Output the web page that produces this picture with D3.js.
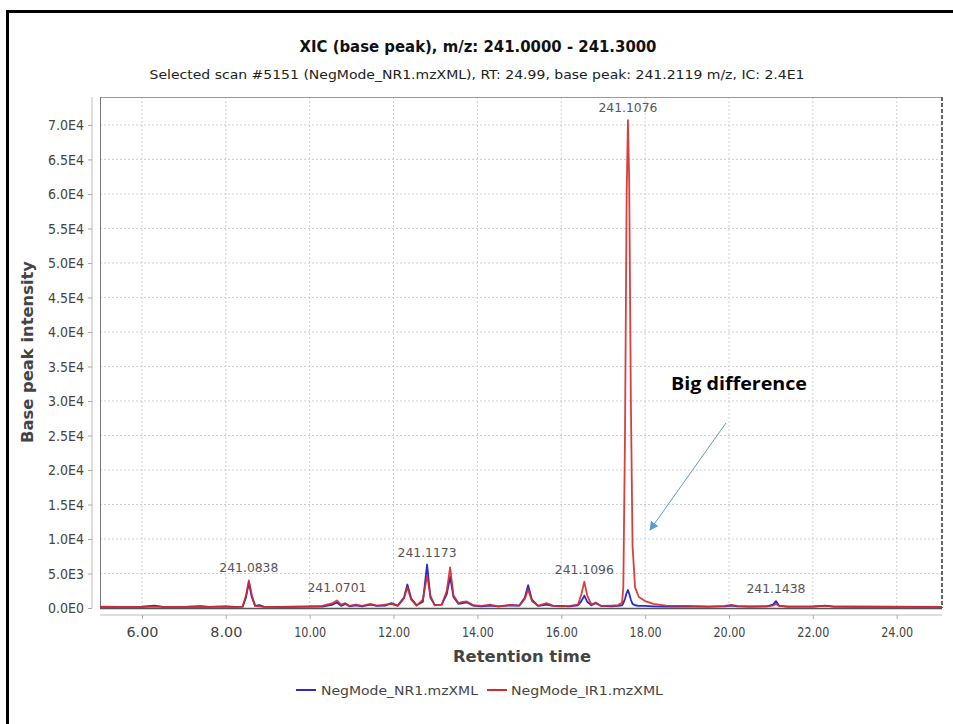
<!DOCTYPE html>
<html>
<head>
<meta charset="utf-8">
<script src="https://cdn.jsdelivr.net/npm/d3@7"></script>
<style>
  html, body { margin: 0; padding: 0; background: #fff; }
  svg { display: block; }
</style>
</head>
<body>
<svg id="chart" width="953" height="724"></svg>
<script>
// Retention time (min), shared by both traces
const retentionTime = [
  5.00, 5.50, 6.00, 6.30, 6.50, 7.00, 7.40, 7.60, 8.00, 8.20, 8.40, 8.48, 8.55, 8.62, 8.70, 8.80, 8.90,
  9.20, 9.60, 10.00, 10.30, 10.55, 10.65, 10.75, 10.85, 10.95, 11.10, 11.25, 11.45, 11.60, 11.80, 11.95,
  12.10, 12.25, 12.33, 12.42, 12.55, 12.70, 12.80, 12.88, 12.98, 13.15, 13.27, 13.35, 13.43, 13.55, 13.65,
  13.75, 13.90, 14.10, 14.30, 14.50, 14.80, 15.00, 15.13, 15.21, 15.30, 15.45, 15.65, 15.80, 16.00, 16.20,
  16.40, 16.48, 16.55, 16.62, 16.72, 16.82, 16.95, 17.20, 17.35, 17.45, 17.48, 17.52, 17.56, 17.59, 17.62,
  17.66, 17.70, 17.76, 17.85, 18.00, 18.20, 18.50, 19.00, 19.50, 19.90, 20.05, 20.20, 20.50, 20.90, 21.05,
  21.12, 21.20, 21.40, 22.00, 22.30, 22.50, 23.00, 24.00, 25.08
];

// Base peak intensity, NegMode_NR1.mzXML
const intensityNR1 = [
  150, 160, 180, 350, 170, 150, 200, 160, 250, 170, 200, 1500, 3700, 1600, 300, 420, 200,
  160, 180, 250, 200, 500, 800, 300, 600, 250, 400, 250, 500, 300, 350, 700,
  350, 1500, 3400, 1400, 400, 900, 6300, 1500, 450, 500, 2000, 4500, 1600, 600, 700,
  800, 350, 250, 350, 250, 400, 350, 1500, 3300, 1200, 300, 500, 300, 300, 250,
  400, 1000, 1800, 900, 400, 700, 300, 250, 300, 400, 700, 1300, 2200, 2600, 2100,
  1200, 600, 400, 300, 300, 250, 200, 250, 200, 250, 350, 250, 200, 250, 500,
  1000, 300, 200, 200, 350, 200, 180, 160, 150
];

// Base peak intensity, NegMode_IR1.mzXML
const intensityIR1 = [
  180, 170, 150, 200, 160, 170, 320, 170, 200, 160, 200, 1800, 4000, 1900, 300, 250, 180,
  160, 170, 200, 300, 700, 1100, 500, 700, 300, 500, 300, 600, 350, 500, 600,
  300, 1400, 3000, 1200, 350, 1200, 4700, 1800, 400, 500, 2500, 5900, 1800, 700, 900,
  950, 400, 300, 500, 250, 450, 350, 1300, 2700, 1000, 300, 700, 350, 250, 300,
  500, 2000, 3800, 1800, 500, 800, 300, 350, 400, 800, 3000, 25000, 60000, 70700, 62000,
  30000, 9000, 3000, 1600, 1000, 600, 350, 300, 200, 300, 450, 300, 220, 250, 350,
  600, 300, 200, 220, 300, 200, 200, 180, 170
];

// Annotated peaks: retention time of the apex and the m/z shown above it
const peakTimes = [8.55, 10.65, 12.80, 16.55, 17.59, 21.12];
const peakLabels = ["241.0838", "241.0701", "241.1173", "241.1096", "241.1076", "241.1438"];

const xTicks = [6, 8, 10, 12, 14, 16, 18, 20, 22, 24];
const yTicks = [0, 5000, 10000, 15000, 20000, 25000, 30000, 35000, 40000, 45000, 50000, 55000, 60000, 65000, 70000];

const seriesNames = ["NegMode_NR1.mzXML", "NegMode_IR1.mzXML"];
const seriesColors = ["#2b2bc8", "#d42a2a"];

const svg = d3.select("#chart");
const font = "'DejaVu Sans', 'Noto Sans', sans-serif";

// outer frame
svg.append("rect")
  .attr("x", 7.5).attr("y", 11.5).attr("width", 1000).attr("height", 1000)
  .attr("fill", "none").attr("stroke", "#000").attr("stroke-width", 3);

const plot = { left: 100, right: 942, top: 97, bottom: 608 };

const x = d3.scaleLinear().domain([5, 25.08]).range([plot.left, plot.right]);
const y = d3.scaleLinear().domain([0, 74050]).range([plot.bottom, plot.top]);

function fitText(sel, width) {
  sel.attr("textLength", width).attr("lengthAdjust", "spacingAndGlyphs");
}

// titles
svg.append("text").attr("x", 478).attr("y", 52).attr("text-anchor", "middle")
  .attr("font-family", font).attr("font-weight", "bold").attr("font-size", 15).attr("fill", "#111")
  .text("XIC (base peak), m/z: 241.0000 - 241.3000").call(fitText, 357);
svg.append("text").attr("x", 477).attr("y", 79).attr("text-anchor", "middle")
  .attr("font-family", font).attr("font-size", 13).attr("fill", "#222")
  .text("Selected scan #5151 (NegMode_NR1.mzXML), RT: 24.99, base peak: 241.2119 m/z, IC: 2.4E1")
  .call(fitText, 655);

// grid
const grid = svg.append("g");
grid.selectAll("line.gx").data(xTicks).join("line")
  .attr("x1", d => x(d)).attr("x2", d => x(d)).attr("y1", plot.top).attr("y2", plot.bottom)
  .attr("stroke", "#cfcfcf").attr("stroke-dasharray", "2,2");
grid.selectAll("line.gy").data(yTicks.slice(1)).join("line")
  .attr("x1", plot.left).attr("x2", plot.right).attr("y1", d => y(d)).attr("y2", d => y(d))
  .attr("stroke", "#cfcfcf").attr("stroke-dasharray", "2,2");

// plot frame
svg.append("line").attr("x1", plot.left).attr("x2", plot.right).attr("y1", plot.top + 0.5).attr("y2", plot.top + 0.5)
  .attr("stroke", "#999");
svg.append("line").attr("x1", plot.left + 0.5).attr("x2", plot.left + 0.5).attr("y1", plot.top).attr("y2", plot.bottom)
  .attr("stroke", "#777");
svg.append("line").attr("x1", plot.right).attr("x2", plot.right).attr("y1", plot.top).attr("y2", plot.bottom)
  .attr("stroke", "#666").attr("stroke-width", 2).attr("stroke-dasharray", "4,2");
svg.append("line").attr("x1", plot.left).attr("x2", plot.right).attr("y1", plot.bottom + 0.5).attr("y2", plot.bottom + 0.5)
  .attr("stroke", "#555").attr("stroke-width", 1.5);

// axes
const yAxis = d3.axisLeft(y).tickValues(yTicks).tickSize(4).tickPadding(4)
  .tickFormat(d => d === 0 ? "0.0E0" : (d >= 10000 ? (d / 10000).toFixed(1) + "E4" : (d / 1000).toFixed(1) + "E3"));
const gy = svg.append("g").attr("transform", "translate(92,0)").call(yAxis);
gy.select(".domain").attr("stroke", "#bbb").attr("d", `M0,${plot.top}V${plot.bottom}`);
gy.selectAll(".tick line").attr("stroke", "#aaa");
gy.selectAll(".tick text").attr("font-family", font).attr("font-size", 14).attr("fill", "#444")
  .attr("dy", "0.35em").call(fitText, 36);

const xAxis = d3.axisBottom(x).tickValues(xTicks).tickSize(4).tickPadding(8).tickFormat(d3.format(".2f"));
const gx = svg.append("g").attr("transform", "translate(0,615)").call(xAxis);
gx.select(".domain").attr("stroke", "#bbb").attr("d", `M${plot.left},0H${plot.right}`);
gx.selectAll(".tick line").attr("stroke", "#aaa");
gx.selectAll(".tick text").attr("font-family", font).attr("font-size", 14).attr("fill", "#444")
  .call(fitText, 32);

// axis titles
svg.append("text").attr("x", 522).attr("y", 662).attr("text-anchor", "middle")
  .attr("font-family", font).attr("font-weight", "bold").attr("font-size", 16).attr("fill", "#444")
  .text("Retention time").call(fitText, 138);
svg.append("text").attr("transform", "translate(33,352) rotate(-90)").attr("text-anchor", "middle")
  .attr("font-family", font).attr("font-weight", "bold").attr("font-size", 16).attr("fill", "#444")
  .text("Base peak intensity").call(fitText, 182);

// traces
const line = d3.line().x(d => x(d[0])).y(d => y(d[1]));
const traces = [intensityNR1, intensityIR1];
const clip = svg.append("clipPath").attr("id", "clip").append("rect")
  .attr("x", plot.left).attr("y", plot.top).attr("width", plot.right - plot.left).attr("height", plot.bottom - plot.top + 2);
traces.forEach((vals, i) => {
  svg.append("path")
    .datum(retentionTime.map((t, j) => [t, vals[j]]))
    .attr("clip-path", "url(#clip)")
    .attr("d", line)
    .attr("fill", "none")
    .attr("stroke", seriesColors[i])
    .attr("stroke-width", 1.8)
    .attr("stroke-opacity", i === 1 ? 0.9 : 1)
    .attr("stroke-linejoin", "round");
});

// peak annotations
const apex = t => {
  const j = retentionTime.indexOf(t);
  return Math.max(intensityNR1[j], intensityIR1[j]);
};
svg.selectAll("text.peak").data(peakTimes).join("text")
  .attr("class", "peak")
  .attr("x", d => x(d)).attr("y", d => y(apex(d)) - 8)
  .attr("text-anchor", "middle")
  .attr("font-family", font).attr("font-size", 13).attr("fill", "#555")
  .text((d, i) => peakLabels[i]).call(fitText, 59);

// callout
svg.append("text").attr("x", 671).attr("y", 390)
  .attr("font-family", "'Open Sans', 'Liberation Sans', sans-serif").attr("font-weight", "bold")
  .attr("font-size", 17).attr("fill", "#000")
  .text("Big difference").call(fitText, 136);
svg.append("defs").append("marker").attr("id", "arrow")
  .attr("viewBox", "0 0 10 10").attr("refX", 9).attr("refY", 5)
  .attr("markerWidth", 9).attr("markerHeight", 9).attr("markerUnits", "userSpaceOnUse")
  .attr("orient", "auto")
  .append("path").attr("d", "M0,0L10,5L0,10Z").attr("fill", "#5b9bd5");
svg.append("line").attr("x1", 726).attr("y1", 423).attr("x2", 650).attr("y2", 530)
  .attr("stroke", "#5b9bd5").attr("stroke-width", 1).attr("marker-end", "url(#arrow)");

// legend
const legend = svg.append("g");
const legendItems = [{ x: 296, tx: 321, w: 157 }, { x: 487, tx: 511, w: 152 }];
legendItems.forEach((it, i) => {
  legend.append("line").attr("x1", it.x).attr("x2", it.x + 20).attr("y1", 690).attr("y2", 690)
    .attr("stroke", seriesColors[i]).attr("stroke-width", 2);
  legend.append("text").attr("x", it.tx).attr("y", 695)
    .attr("font-family", font).attr("font-size", 13).attr("fill", "#444")
    .text(seriesNames[i]).call(fitText, it.w);
});
</script>
</body>
</html>
